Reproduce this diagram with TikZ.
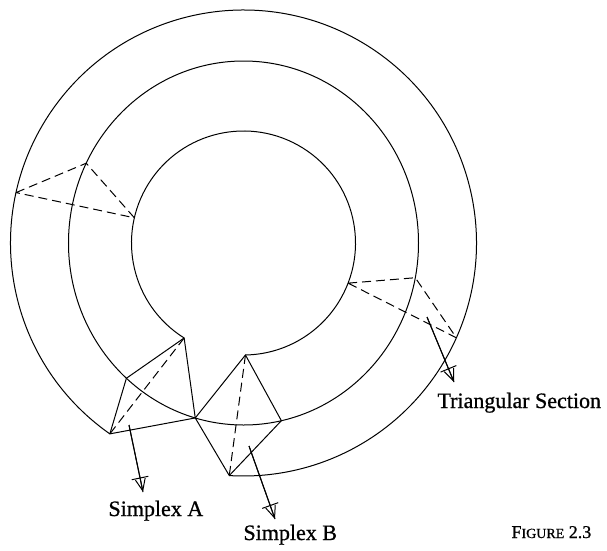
\documentclass[tikz,border=0pt]{standalone}
\usepackage{fontspec}
\setmainfont{Liberation Serif}[FakeBold=0.8]
\usetikzlibrary{arrows.meta}

\begin{document}
\begin{tikzpicture}
        [
        x=1pt, y=-1pt,
        line width=1pt, line join=round,
        hidden/.style={draw, dash pattern=on 9pt off 5pt},
        pointer/.style={-{Bar[width=17pt,sep=0pt] Straight Barb[length=12pt,width=10pt,sep=0pt]}, postaction={draw,-}},
        every node/.style={inner sep=0pt, anchor=base west, font=\fontsize{22}{26}\selectfont}
        ]
        \useasboundingbox (-243.5,-243) rectangle (363.5,307);
        % Vertices on the circles
        \coordinate (A1) at (122:112);
        \coordinate (A2) at (132:175 and 182);
        \coordinate (A3) at (125:233);
        \coordinate (A4) at (106:175 and 182);
        \coordinate (B1) at (89:112);
        \coordinate (B3) at (93.5:233);
        \coordinate (B4) at (77.5:175 and 182);
        \coordinate (L1) at (192.5:233);
        \coordinate (L2) at (206:175 and 182);
        \coordinate (L3) at (193:112);
        \coordinate (T1) at (21:112);
        \coordinate (T2) at (11:175 and 182);
        \coordinate (T3) at (24:233);
        % Circles
        \draw (A1) arc[start angle=122, end angle=449, radius=112];
        \draw (0,0) ellipse[x radius=175, y radius=182];
        \draw (A3) arc[start angle=125, end angle=453.5, radius=233];
        % Simplex A
        \draw (A1) -- (A2) -- (A3) -- (A4) -- cycle;
        \draw[hidden] (A1) -- (A3);
        % Simplex B
        \draw (B1) -- (A4) -- (B3) -- (B4) -- cycle;
        \draw[hidden] (B1) -- (B3);
        % Triangular sections
        \draw[hidden] (L1) -- (L2) -- (L3) -- cycle;
        \draw[hidden] (T1) -- (T2) -- (T3) -- cycle;
        % Labels
        \node (labA) at (-135.5,273) {Simplex A};
        \node (labB) at (-0.5,297) {Simplex B};
        \node (labT) at (193.5,165) {Triangular Section};
        \node (fig) at (267.5,295) {\fontsize{18}{22}\selectfont F{\fontsize{14}{16}\selectfont IGURE} 2.3};
        % Pointers
        \coordinate (pA) at (-114.5,182);
        \coordinate (tipA) at (-100.5,249);
        \coordinate (pB) at (5.5,203);
        \coordinate (tipB) at (31.5,276);
        \coordinate (pT) at (183.5,74);
        \coordinate (tipT) at (210.5,139);
        \draw[pointer] (pA) -- (tipA);
        \draw[pointer] (pB) -- (tipB);
        \draw[pointer] (pT) -- (tipT);
\end{tikzpicture}
\end{document}
